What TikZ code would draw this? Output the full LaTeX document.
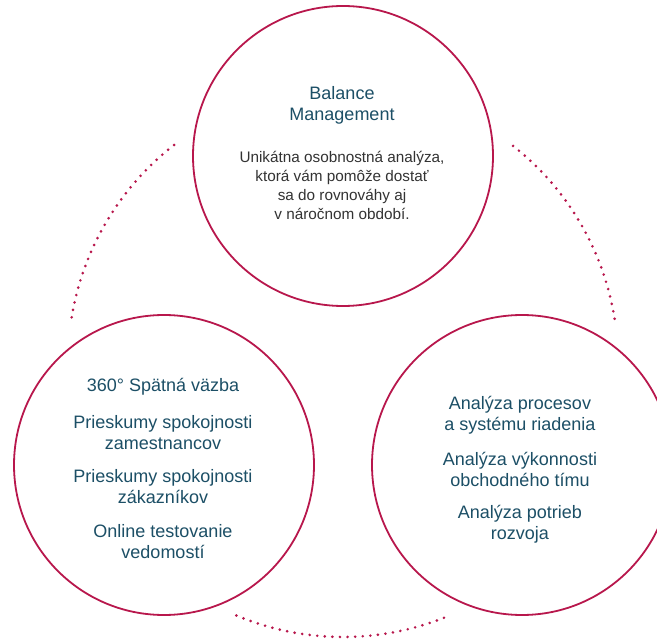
\documentclass[tikz,border=0pt]{standalone}
\usepackage{fontspec}
\setmainfont{Liberation Sans}
\definecolor{crim}{HTML}{B8174C}
\definecolor{teal}{HTML}{1C4F66}
\definecolor{body}{HTML}{333333}
\tikzset{
  ring/.style={draw=crim, line width=1.8pt, circle, minimum size=300pt, inner sep=0pt},
  head/.style={text=teal, align=center, inner sep=0pt, font=\fontsize{18}{21}\selectfont},
  desc/.style={text=body, align=center, inner sep=0pt, font=\fontsize{15.3}{19}\selectfont},
  dots/.style={draw=crim, line width=2.9pt, line cap=round, dash pattern=on 0pt off 7.6pt}
}
\begin{document}
\begin{tikzpicture}[x=1pt,y=-1pt]
\useasboundingbox (0,0) rectangle (657,639);
\clip (0,0) rectangle (657,639);
\fill[white] (0,0) rectangle (657,639);
\coordinate (big) at (343,362);
\draw[dots] (big) ++(-127.9:275) arc[start angle=-127.9, end angle=-171.2, radius=275];
\draw[dots] (big) ++(-51.8:275) arc[start angle=-51.8, end angle=-8.4, radius=275];
\draw[dots] (big) ++(-247.2:275) arc[start angle=-247.2, end angle=-292.4, radius=275];
\node[ring] (top) at (343,156) {};
\node[ring] (left) at (164,465) {};
\node[ring] (right) at (522,465) {};
\node[head] (t1) at (342,105) {Balance\\Management};
\node[desc] (t2) at (342,185) {Unikátna osobnostná analýza,\\ktorá vám pomôže dostať\\sa do rovnováhy aj\\v náročnom období.};
\node[head] (l1) at (163,387) {360° Spätná väzba};
\node[head] (l2) at (163,432.5) {Prieskumy spokojnosti\\zamestnancov};
\node[head] (l3) at (163,487) {Prieskumy spokojnosti\\zákazníkov};
\node[head] (l4) at (163,541.5) {Online testovanie\\vedomostí};
\node[head] (r1) at (520,415) {Analýza procesov\\a systému riadenia};
\node[head] (r2) at (520,469.5) {Analýza výkonnosti\\obchodného tímu};
\node[head] (r3) at (520,524.5) {Analýza potrieb\\rozvoja};
\end{tikzpicture}
\end{document}
